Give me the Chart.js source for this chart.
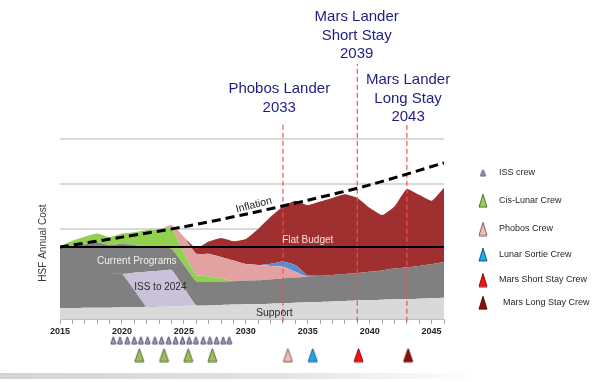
<!DOCTYPE html>
<html><head><meta charset="utf-8">
<script src="https://cdn.jsdelivr.net/npm/chart.js@4.4.1/dist/chart.umd.min.js"></script>
<style>
html,body{margin:0;padding:0;background:#fff;}
#wrap{position:relative;width:600px;height:382px;overflow:hidden;background:#fff;}
#strip{position:absolute;left:0;top:373px;width:600px;height:6px;background:linear-gradient(to right,#d4d4d4 0%,#e2e2e2 45%,#ffffff 80%);}
canvas{position:absolute;left:0;top:0;}
</style></head><body>
<div id="wrap"><div id="strip"></div><canvas id="c" width="600" height="382"></canvas></div>
<script>
// ---------- data ----------
const years = [2015,2016,2017,2018,2019,2020,2021,2022,2023,2024,2025,2026,2027,2028,2029,2030,2031,2032,2033,2034,2035,2036,2037,2038,2039,2040,2041,2042,2043,2044,2045,2046];
// cumulative tops of each stacked band (gridline spacing = 1 unit)
const supportTop  = [0.24,0.24,0.25,0.25,0.25,0.26,0.26,0.27,0.27,0.28,0.29,0.30,0.30,0.31,0.32,0.33,0.33,0.34,0.35,0.36,0.37,0.38,0.39,0.40,0.41,0.42,0.43,0.44,0.44,0.45,0.46,0.47];
const lowerProgTop= [1.00,1.00,1.00,1.00,1.00,1.00,0.64,0.27,0.27,0.28,0.29,0.30,0.30,0.31,0.32,0.33,0.33,0.34,0.35,0.36,0.37,0.38,0.39,0.40,0.41,0.42,0.43,0.44,0.44,0.45,0.46,0.47];
const issTop      = [1.00,1.00,1.00,1.00,1.00,1.00,1.03,1.05,1.07,1.09,0.70,0.30,0.30,0.31,0.32,0.33,0.33,0.34,0.35,0.36,0.37,0.38,0.39,0.40,0.41,0.42,0.43,0.44,0.44,0.45,0.46,0.47];
const currentTop  = [1.60,1.62,1.66,1.70,1.64,1.67,1.64,1.62,1.60,1.56,1.20,0.84,0.83,0.83,0.84,0.85,0.86,0.88,0.90,0.92,0.94,0.96,0.98,1.00,1.02,1.05,1.08,1.12,1.15,1.18,1.22,1.26];
const cisLunarTop = [1.62,1.74,1.83,1.90,1.82,1.90,1.93,1.98,1.99,2.02,1.47,0.98,0.95,0.90,0.84,0.85,0.86,0.88,0.90,0.92,0.94,0.96,0.98,1.00,1.02,1.05,1.08,1.12,1.15,1.18,1.22,1.26];
const phobosTop   = [1.62,1.74,1.83,1.90,1.82,1.90,1.93,1.98,1.99,2.09,1.82,1.45,1.45,1.38,1.30,1.22,1.20,1.18,1.16,1.05,0.94,0.96,0.98,1.00,1.02,1.05,1.08,1.12,1.15,1.18,1.22,1.26];
const lunarTop    = [1.62,1.74,1.83,1.90,1.82,1.90,1.93,1.98,1.99,2.09,1.82,1.45,1.45,1.38,1.30,1.22,1.20,1.23,1.28,1.20,0.97,0.96,0.98,1.00,1.02,1.05,1.08,1.12,1.15,1.18,1.22,1.26];
const marsTop     = [1.62,1.74,1.83,1.90,1.82,1.90,1.93,1.98,1.99,2.09,1.82,1.57,1.72,1.80,1.73,1.78,2.00,2.27,2.50,2.63,2.53,2.61,2.69,2.77,2.69,2.47,2.31,2.50,2.89,2.76,2.63,2.92];
const flatBudget = 1.6;
const inflationYears = [2015,2020,2025,2030,2035,2040,2046];
const inflationVals  = [1.60,1.82,2.05,2.33,2.64,2.98,3.47];
const milestoneYears = [2033,2039,2043];
const milestoneTops  = [4.38,5.67,4.31];
const milestoneTitles = [["Phobos Lander","2033"],["Mars Lander","Short Stay","2039"],["Mars Lander","Long Stay","2043"]];
const issCrew   = [2019.30,2019.84,2020.43,2020.99,2021.53,2022.07,2022.66,2023.20,2023.77,2024.33,2024.89,2025.43,2025.97,2026.56,2027.10,2027.64,2028.17,2028.66];
const cisLunarCrew = [2021.4,2023.4,2025.35,2027.3];
const phobosCrew = [2033.4];
const lunarSortieCrew = [2035.4];
const marsShortCrew = [2039.1];
const marsLongCrew = [2043.1];
const xTickLabels = [2015,2020,2025,2030,2035,2040,2045];

// ---------- styling / helpers ----------
const FONT = "'Liberation Sans', Arial, sans-serif";
const ROW_ISS = -0.47, ROW_CREW = -0.80;   // rows below the axis (in axis units)
function tri(w,h,fill,stroke){
  const c=document.createElement('canvas'); c.width=w+2; c.height=h+2;
  const g=c.getContext('2d');
  g.beginPath(); g.moveTo(1+w/2,1); g.lineTo(1+w,1+h); g.lineTo(1,1+h); g.closePath();
  g.fillStyle=fill; g.fill(); g.lineWidth=0.9; g.strokeStyle=stroke; g.stroke();
  return c;
}
const imgISS   = tri(5,7,'#a9a0c4','#3c3a58');
const imgCis   = tri(9,13,'#9bbf5a','#4a5f25');
const imgPho   = tri(9,13,'#f3bcb0','#6e5050');
const imgLun   = tri(9,13,'#12aef0','#1d4870');
const imgMS    = tri(9,13,'#ff1010','#700000');
const imgML    = tri(9,13,'#9a0a0a','#3a0000');
const lgISS = tri(5,6,'#a9a0c4','#3c3a58');
const lgCis = tri(8,13,'#9bd05a','#4a5f25');
const lgPho = tri(8,13,'#f3bcb0','#6e5050');
const lgLun = tri(8,13,'#12aef0','#1d4870');
const lgMS  = tri(8,13,'#ff1010','#700000');
const lgML  = tri(8,13,'#9a0a0a','#3a0000');

const pts = arr => years.map((y,i)=>({x:y,y:arr[i]}));
function area(label,arr,color,fillTo){
  return {label,data:pts(arr),backgroundColor:color,borderWidth:0,pointRadius:0,fill:fillTo,tension:0.15,order:5};
}
function crew(label,arr,row,img){
  return {label,data:arr.map(v=>({x:v,y:row})),showLine:false,pointStyle:img,pointRadius:6,pointHoverRadius:6,order:0,clip:false};
}
const datasets = [
  area('Support',supportTop,'#d9d9d9','origin'),
  area('Programs low',lowerProgTop,'#808080',0),
  area('ISS to 2024',issTop,'#ccc1da',1),
  area('Current Programs',currentTop,'#808080',2),
  area('Cis-Lunar',cisLunarTop,'#92d050',3),
  area('Phobos',phobosTop,'#e3a2a2',4),
  area('Lunar Sortie',lunarTop,'#558ed5',5),
  area('Mars',marsTop,'#a03030',6),
  {label:'Flat Budget',data:[{x:years[0],y:flatBudget},{x:years[years.length-1],y:flatBudget}],borderColor:'#000',borderWidth:2,pointRadius:0,fill:false,order:1},
  {label:'Inflation',data:inflationYears.map((y,i)=>({x:y,y:inflationVals[i]})),borderColor:'#000',borderWidth:3,borderDash:[9,5],pointRadius:0,fill:false,tension:0.3,order:1},
];
milestoneYears.forEach((yr,i)=>{
  datasets.push({label:'m'+yr,data:[{x:yr,y:-0.06},{x:yr,y:milestoneTops[i]}],borderColor:'rgba(240,80,80,0.9)',borderWidth:1.3,borderDash:[5,3],pointRadius:0,fill:false,order:2,clip:false});
});
datasets.push(crew('ISS crew',issCrew,ROW_ISS,imgISS));
datasets.push(crew('Cis-Lunar Crew',cisLunarCrew,ROW_CREW,imgCis));
datasets.push(crew('Phobos Crew',phobosCrew,ROW_CREW,imgPho));
datasets.push(crew('Lunar Sortie Crew',lunarSortieCrew,ROW_CREW,imgLun));
datasets.push(crew('Mars Short Stay Crew',marsShortCrew,ROW_CREW,imgMS));
datasets.push(crew('Mars Long Stay Crew',marsLongCrew,ROW_CREW,imgML));

function txt(ctx,s,x,y,font,color,align,rot){
  ctx.save(); ctx.translate(x,y); if(rot) ctx.rotate(rot);
  ctx.font=font; ctx.fillStyle=color; ctx.textAlign=align||'center'; ctx.textBaseline='middle';
  ctx.fillText(s,0,0); ctx.restore();
}
const labelsPlugin = {
  id:'labels',
  afterDatasetsDraw(chart){
    const ctx=chart.ctx, xs=chart.scales.x, ys=chart.scales.y;
    const P=(yr,v)=>[xs.getPixelForValue(yr),ys.getPixelForValue(v)];
    let p;
    p=P(2021.2,1.29); txt(ctx,'Current Programs',p[0],p[1],'10px '+FONT,'#f0f0f0');
    p=P(2023.1,0.71); txt(ctx,'ISS to 2024',p[0],p[1],'10px '+FONT,'#2a2a2a');
    p=P(2035.0,1.76); txt(ctx,'Flat Budget',p[0],p[1],'10px '+FONT,'#f6dede');
    p=P(2032.3,0.13); txt(ctx,'Support',p[0],p[1],'10.5px '+FONT,'#2a2a2a');
    p=P(2030.65,2.53); txt(ctx,'Inflation',p[0],p[1],'10.5px '+FONT,'#1a1a1a','center',-0.25);
  },
  afterDraw(chart){
    const ctx=chart.ctx, xs=chart.scales.x;
    // milestone titles
    const tops=[[89,107.5],[17,35.5,53.5],[80,98.5,116.5]];
    const cx=[xs.getPixelForValue(2032.7),xs.getPixelForValue(2038.95),xs.getPixelForValue(2043.1)];
    milestoneTitles.forEach((lines,i)=>{
      lines.forEach((s,j)=>txt(ctx,s,cx[i],tops[i][j],'15px '+FONT,'#1e1e82'));
    });
    // y title
    txt(ctx,'HSF Annual Cost',43,243,'10px '+FONT,'#3a3a3a','center',-Math.PI/2);
    // legend
    const items=[[lgISS,'ISS crew',172.7,499],[lgCis,'Cis-Lunar Crew',200.7,499],[lgPho,'Phobos Crew',229,499],[lgLun,'Lunar Sortie Crew',254.5,499],[lgMS,'Mars Short Stay Crew',280,499],[lgML,'Mars Long Stay Crew',302.7,503]];
    items.forEach(([img,s,y,tx])=>{
      ctx.drawImage(img,483-img.width/2,y-img.height/2);
      txt(ctx,s,tx,y,'9px '+FONT,'#262626','left');
    });
  }
};

new Chart(document.getElementById('c'),{
  type:'line',
  data:{datasets},
  options:{
    responsive:false, animation:false, devicePixelRatio:1,
    layout:{autoPadding:false,padding:{left:0,right:156,top:0,bottom:0}},
    plugins:{legend:{display:false},tooltip:{enabled:false}},
    events:[],
    scales:{
      x:{type:'linear',min:2015,max:2046,position:{y:0},
        afterFit(s){s.height=0;},
        ticks:{stepSize:1,autoSkip:false,maxRotation:0,padding:3,color:'#222',
          font:{family:FONT,size:9,weight:'bold'},
          callback:v=> xTickLabels.includes(v)? String(v):''},
        grid:{drawOnChartArea:false,drawTicks:true,tickLength:4,color:'#a6a6a6'},
        border:{display:true,color:'#c0c0c0'}},
      y:{type:'linear',min:-1.4,max:7.09,
        afterFit(s){s.width=60;},
        ticks:{display:false,stepSize:1},
        border:{display:false},
        grid:{drawTicks:false,lineWidth:2,
          color:c=>{const v=c.tick.value;return [1,2,3,4].some(k=>Math.abs(k-v)<1e-6)?'#d9d9d9':'rgba(0,0,0,0)';}}}
    }
  },
  plugins:[labelsPlugin]
});
</script>
</body></html>
